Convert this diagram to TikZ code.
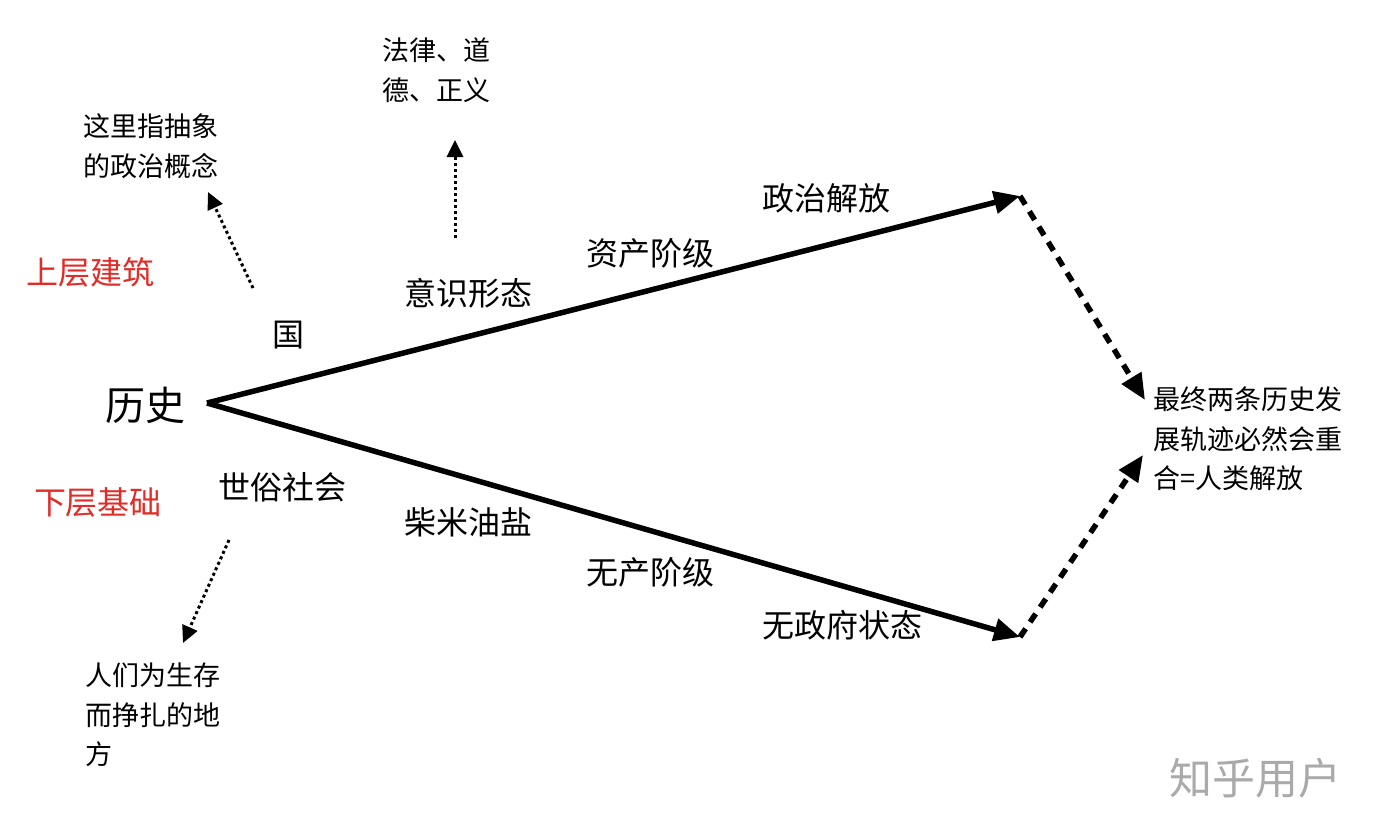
\documentclass[tikz,border=0pt]{standalone}
\usepackage{fontspec}
\setmainfont{Noto Sans CJK SC}
\usetikzlibrary{arrows.meta}
\definecolor{redlbl}{RGB}{225,45,40}
\definecolor{wm}{RGB}{170,170,170}
\tikzset{
  lbl/.style={inner sep=0pt, font=\fontsize{32}{40}\selectfont},
  note/.style={inner sep=0pt, align=left, font=\fontsize{27}{39.5}\selectfont},
  redl/.style={inner sep=0pt, text=redlbl, font=\fontsize{32}{40}\selectfont},
  mainarrow/.style={line width=5.5pt, -{Triangle[length=26pt,width=22pt]}},
  dasharrow/.style={line width=5.5pt, dash pattern=on 10pt off 8pt, -{Triangle[length=26pt,width=22pt]}},
  dotarrow/.style={line width=3pt, dash pattern=on 3pt off 3pt, -{Triangle[length=17pt,width=16pt]}},
}
\begin{document}
\begin{tikzpicture}[x=1pt,y=-1pt]
\useasboundingbox[fill=white] (0,0) rectangle (1376,828);
% main labels
\node[inner sep=0pt, font=\fontsize{40}{48}\selectfont] (hist) at (145,405) {历史};
\coordinate (s) at (207,403);
\coordinate (u) at (1020,196);
\coordinate (d) at (1020,637);
\coordinate (fu) at (1145,400);
\coordinate (fd) at (1143,455);
\draw[mainarrow] (s) -- (u);
\draw[mainarrow] (s) -- (d);
\draw[dasharrow] (u) -- (fu);
\draw[dasharrow] (d) -- (fd);
% labels on arrows
\node[lbl] (guo) at (288,335) {国};
\node[lbl] (yishi) at (468,293) {意识形态};
\node[lbl] (zichan) at (650,253) {资产阶级};
\node[lbl] (zhengzhi) at (826,198) {政治解放};
\node[lbl] (shisu) at (282,487) {世俗社会};
\node[lbl] (chaimi) at (468,522) {柴米油盐};
\node[lbl] (wuchan) at (650,572) {无产阶级};
\node[lbl] (wuzheng) at (842,625) {无政府状态};
% red labels
\node[redl] (shang) at (91,272) {上层建筑};
\node[redl] (xia) at (98,502) {下层基础};
% notes
\node[note, anchor=west] (falv) at (382,70) {法律、道\\德、正义};
\node[note, anchor=west] (zheli) at (83,146) {这里指抽象\\的政治概念};
\node[note, anchor=west] (renmen) at (85,715) {人们为生存\\而挣扎的地\\方};
\node[note, anchor=west] (zuizhong) at (1153,439) {最终两条历史发\\展轨迹必然会重\\合=人类解放};
% dotted arrows
\coordinate (a1) at (253,288);
\coordinate (b1) at (208,192);
\coordinate (a2) at (455,238);
\coordinate (b2) at (455,140);
\coordinate (a3) at (229,540);
\coordinate (b3) at (183,643);
\draw[dotarrow] (a1) -- (b1);
\draw[dotarrow] (a2) -- (b2);
\draw[dotarrow] (a3) -- (b3);
% watermark
\node[inner sep=0pt, text=wm, font=\fontsize{43}{50}\selectfont] (wmk) at (1255,778) {知乎用户};
\end{tikzpicture}
\end{document}
